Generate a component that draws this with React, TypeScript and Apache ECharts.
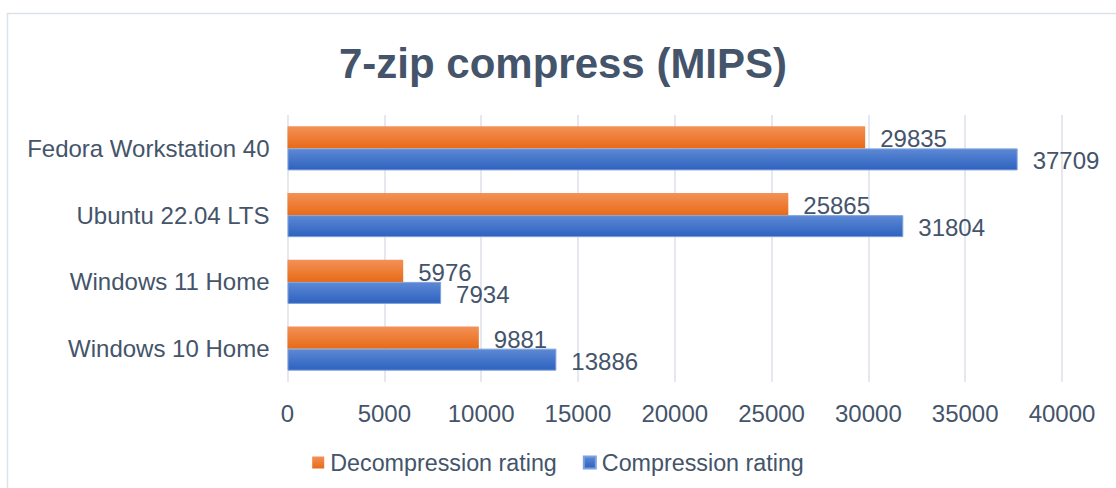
import React, { useEffect, useRef } from "react";
import * as echarts from "echarts";

const categories = ["Windows 10 Home", "Windows 11 Home", "Ubuntu 22.04 LTS", "Fedora Workstation 40"];
const decompression = [9881, 5976, 25865, 29835];
const compression = [13886, 7934, 31804, 37709];
const seriesNames = ["Decompression rating", "Compression rating"];
const titleText = "7-zip compress (MIPS)";

const TEXT = "#44546A";
const FONT = "'Liberation Sans', Arial, sans-serif";

export default function App() {
  const ref = useRef<HTMLDivElement>(null);
  useEffect(() => {
    if (!ref.current) return;
    const chart = echarts.init(ref.current, undefined, { renderer: "svg" });
    const orange = new echarts.graphic.LinearGradient(0, 0, 0, 1, [
      { offset: 0, color: "#F39157" },
      { offset: 1, color: "#E86A16" },
    ]);
    const blue = new echarts.graphic.LinearGradient(0, 0, 0, 1, [
      { offset: 0, color: "#5D89D5" },
      { offset: 1, color: "#2D62BF" },
    ]);
    const valueLabel = {
      show: true,
      position: "right",
      distance: 15,
      offset: [0, 1.5],
      fontFamily: FONT,
      fontSize: 24,
      color: TEXT,
    };
    chart.setOption({
      animation: false,
      backgroundColor: "#ffffff",
      textStyle: { fontFamily: FONT, color: TEXT },
      graphic: [
        {
          type: "rect",
          silent: true,
          shape: { x: 7.5, y: 13.5, width: 1300, height: 700 },
          style: { fill: "none", stroke: "#DDE1E8", lineWidth: 1.5 },
          z: -10,
        },
      ],
      title: {
        text: titleText,
        left: 558,
        textAlign: "center",
        top: 37,
        textStyle: { fontFamily: FONT, fontSize: 42, fontWeight: "bold", color: TEXT, lineHeight: 42 },
      },
      legend: {
        data: seriesNames,
        bottom: 9,
        left: "center",
        itemWidth: 12,
        itemHeight: 12,
        itemGap: 26,
        icon: "rect",
        textStyle: { fontFamily: FONT, fontSize: 23.3, color: TEXT, padding: [0, 0, 0, 1] },
      },
      grid: { left: 287.5, right: 54, top: 115, bottom: 106, containLabel: false },
      xAxis: {
        type: "value",
        min: 0,
        max: 40000,
        interval: 5000,
        axisLine: { show: false },
        axisTick: { show: false },
        splitLine: { show: true, lineStyle: { color: "#DCE1EA", width: 1.5 } },
        axisLabel: {
          fontFamily: FONT,
          fontSize: 24,
          color: TEXT,
          margin: 19,
          formatter: (v: number) => String(v),
        },
      },
      yAxis: {
        type: "category",
        data: categories,
        axisLine: { show: false },
        axisTick: { show: false },
        axisLabel: { fontFamily: FONT, fontSize: 24, color: TEXT, margin: 18 },
      },
      series: [
        {
          name: seriesNames[0],
          type: "bar",
          data: decompression,
          barGap: "0%",
          barCategoryGap: "34%",
          itemStyle: { color: orange },
          label: valueLabel,
        },
        {
          name: seriesNames[1],
          type: "bar",
          data: compression,
          barGap: "0%",
          barCategoryGap: "34%",
          itemStyle: { color: blue, borderColor: "#7FA0DC", borderWidth: 1 },
          label: valueLabel,
        },
      ],
    });
    return () => chart.dispose();
  }, []);
  return (
    <div
      ref={ref}
      style={{ position: "fixed", left: 0, top: 0, width: 1116, height: 488 }}
    />
  );
}
